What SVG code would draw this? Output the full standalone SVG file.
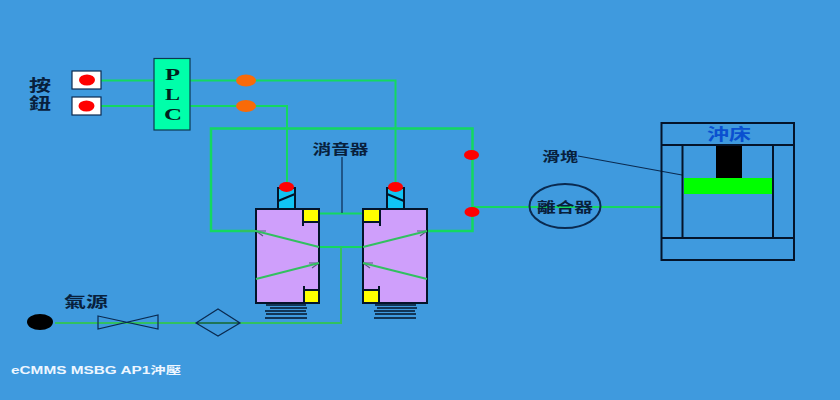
<svg xmlns="http://www.w3.org/2000/svg" width="840" height="400" viewBox="0 0 840 400">
<style>
text{font-family:"Liberation Sans","Noto Sans CJK TC",sans-serif;font-weight:bold;fill:#08203c;text-anchor:middle}
.serif{font-family:"Liberation Serif",serif;font-size:17px;fill:#02201c}
.w{fill:none;stroke:#14d860;stroke-width:2.500}
.t{fill:none;stroke:#14d860;stroke-width:2}
.d{fill:none;stroke:#0a2a50;stroke-width:1.200}
.k{fill:none;stroke:#04142a;stroke-width:2}
.btn{fill:#fff;stroke:#0a2a50;stroke-width:1.200}
.red{fill:#f00}
.or{fill:#f96a08}
.v{fill:#cf9ffb}
.y{fill:#ff0}
.s{fill:#10c4f4;stroke:#04142a;stroke-width:2}
.sp{fill:none;stroke:#04142a;stroke-width:1.500}
.g{fill:none;stroke:#32c060;stroke-width:2}
</style>
<rect width="840" height="400" fill="#3f9ade"/>
<g id="connectors">
<path class="t" d="M101 80.500H154M101 106H154M190 80.500H395.500V184M190 106H287V184"/>
<path class="w" d="M256 231H211V128.500H472.500V231H427"/>
<path class="t" d="M472 207H661"/>
<path class="t" d="M319 213.500H363M319 247H363"/>
<path class="g" d="M341 247V323H55"/>
<path class="d" d="M342 157V213M578 156L682 175"/>
</g>
<g id="label-buttons"><text x="40" y="91" font-size="16" textLength="22" lengthAdjust="spacingAndGlyphs">按</text><text x="40" y="108.500" font-size="16" textLength="22" lengthAdjust="spacingAndGlyphs">鈕</text></g>
<g id="button-1"><rect class="btn" x="72" y="71" width="29" height="18"/><ellipse class="red" cx="87" cy="80" rx="8" ry="5.500"/></g>
<g id="button-2"><rect class="btn" x="72" y="97" width="29" height="18"/><ellipse class="red" cx="86.500" cy="106" rx="8" ry="5.500"/></g>
<g id="plc"><rect x="154" y="58.500" width="36" height="71.500" fill="#00ffaa" stroke="#0a3a50" stroke-width="1.200"/>
<text class="serif" x="172.500" y="80" textLength="15" lengthAdjust="spacingAndGlyphs">P</text>
<text class="serif" x="172.500" y="100" textLength="15" lengthAdjust="spacingAndGlyphs">L</text>
<text class="serif" x="173" y="120" textLength="18" lengthAdjust="spacingAndGlyphs">C</text></g>
<g id="sensor-1"><ellipse class="or" cx="246" cy="80.500" rx="10" ry="6"/></g>
<g id="sensor-2"><ellipse class="or" cx="246" cy="106" rx="10" ry="6"/></g>
<g id="muffler-label"><text x="340.500" y="154" font-size="14" textLength="56" lengthAdjust="spacingAndGlyphs">消音器</text></g>
<g id="valve-left">
<rect class="s" x="278" y="188" width="17" height="21"/><path class="k" d="M278 201L295 194"/>
<ellipse class="red" cx="286.500" cy="187" rx="7.500" ry="5"/>
<rect class="v" x="256" y="209" width="63" height="94"/>
<rect class="y" x="303" y="209" width="16" height="13"/><rect class="y" x="304" y="290" width="15" height="13"/>
<path class="k" d="M303 209V226M303 222H319M304 286V303M304 290H319"/>
<path d="M256 231H266M256 231L263 236M319 263H309M319 263L312 268" stroke="#5a5a80" stroke-width="1.200" fill="none"/>
<path class="k" d="M256 209H319V303H256Z"/>
<path class="g" d="M240 231H256L319 247M256 279L319 263"/>
<path class="sp" d="M266 305H306M270 308H307M265 311H306M266 314H307M265 318H307"/>
</g>
<g id="valve-right">
<rect class="s" x="387" y="188" width="17" height="21"/><path class="k" d="M387 194L404 201"/>
<ellipse class="red" cx="395.500" cy="187" rx="7.500" ry="5"/>
<rect class="v" x="363" y="209" width="64" height="94"/>
<rect class="y" x="364" y="209" width="16" height="13"/><rect class="y" x="364" y="290" width="15" height="13"/>
<path class="k" d="M380 209V226M364 222H380M379 286V303M364 290H379"/>
<path d="M427 231H417M427 231L420 236M363 263H373M363 263L370 268" stroke="#5a5a80" stroke-width="1.200" fill="none"/>
<path class="k" d="M363 209H427V303H363Z"/>
<path class="g" d="M427 231L363 247M427 279L363 263"/>
<path class="sp" d="M375 305H416M377 308H417M374 311H415M375 314H416M374 318H416"/>
</g>
<g id="dot-1"><ellipse class="red" cx="471.500" cy="155" rx="7.500" ry="5"/></g>
<g id="dot-2"><ellipse class="red" cx="472" cy="212" rx="7.500" ry="5"/></g>
<g id="clutch"><ellipse cx="565" cy="206" rx="35.500" ry="22" fill="none" stroke="#0a2a50" stroke-width="2"/>
<text x="565" y="212" font-size="14" textLength="56" lengthAdjust="spacingAndGlyphs">離合器</text></g>
<g id="slider-label"><text x="560" y="161" font-size="13" textLength="36" lengthAdjust="spacingAndGlyphs">滑塊</text></g>
<g id="press">
<rect x="684" y="178" width="88" height="16" fill="#0f0"/>
<rect x="716" y="145" width="26" height="33" fill="#000"/>
<path class="k" d="M661.500 123H794V260H661.500ZM661.500 145H794M661.500 238H794M682.500 145V238M773 145V238"/>
<text x="729" y="139.500" font-size="16" textLength="44" lengthAdjust="spacingAndGlyphs" style="fill:#0a50d0">沖床</text>
</g>
<g id="air-source"><ellipse cx="40" cy="322" rx="13" ry="8" fill="#000"/><text x="86" y="307" font-size="15" textLength="44" lengthAdjust="spacingAndGlyphs">氣源</text></g>
<g id="stop-valve"><path class="d" d="M98 316L158 329V315L98 329Z"/></g>
<g id="filter"><path class="d" d="M196 323L218 309L240 323L218 336ZM196 323H240"/></g>
<g id="footer"><text x="96" y="374" font-size="10.500" textLength="170" lengthAdjust="spacingAndGlyphs" style="fill:#eef6ff">eCMMS MSBG AP1沖壓</text></g>
</svg>
